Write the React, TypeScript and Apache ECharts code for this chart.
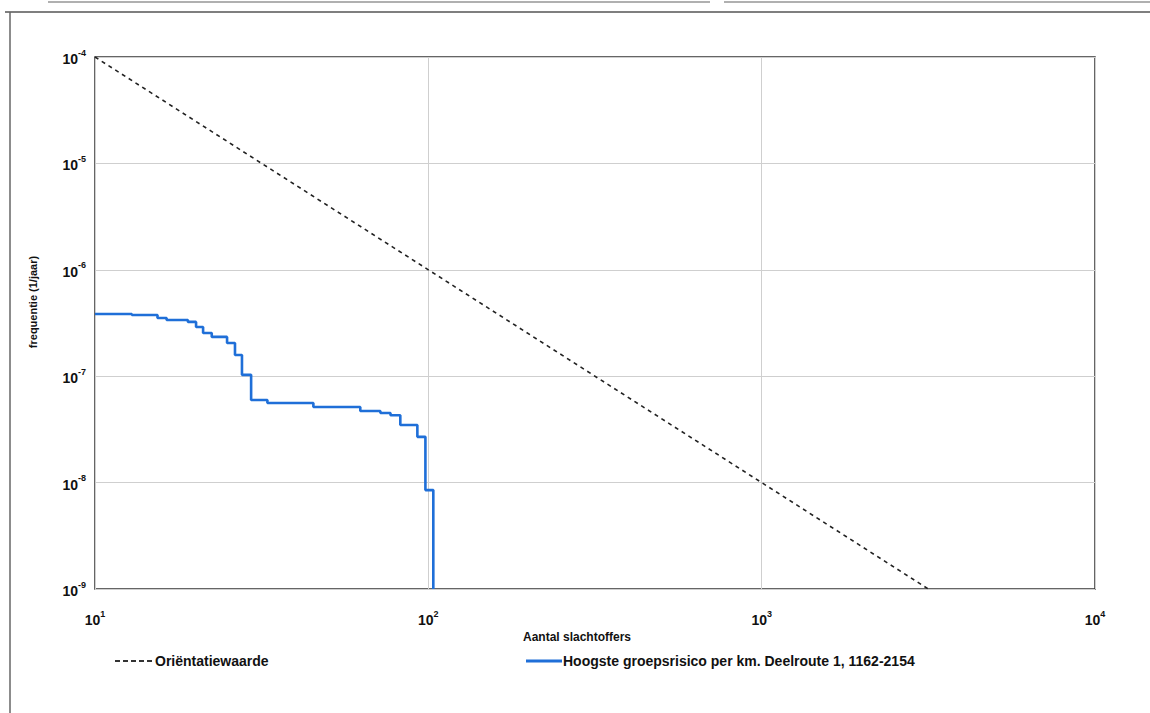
import React, { useEffect, useRef } from "react";
import * as echarts from "echarts";

const xMin = 10;
const xMax = 10000;
const yMin = 1e-9;
const yMax = 1e-4;

const orientName = "Oriëntatiewaarde";
const orientData: [number, number][] = [
  [10, 1e-4],
  [100, 1e-6],
  [1000, 1e-8],
  [3162, 1e-9],
];

const grName = "Hoogste groepsrisico per km. Deelroute 1, 1162-2154";
const grData: [number, number][] = [
  [10, 3.84e-7],
  [12.9, 3.76e-7],
  [15.4, 3.52e-7],
  [16.4, 3.37e-7],
  [19.0, 3.24e-7],
  [20.1, 2.9e-7],
  [21.1, 2.55e-7],
  [22.4, 2.34e-7],
  [24.9, 2.05e-7],
  [26.3, 1.58e-7],
  [27.6, 1.03e-7],
  [29.4, 5.97e-8],
  [32.9, 5.6e-8],
  [45.2, 5.14e-8],
  [62.5, 4.71e-8],
  [71.8, 4.51e-8],
  [77.0, 4.3e-8],
  [82.4, 3.48e-8],
  [92.7, 2.69e-8],
  [98.0, 8.5e-9],
  [103.5, 1e-9],
];

const FONT = "Liberation Sans, Arial, sans-serif";

const powLabel = (v: number) => {
  const e = Math.round(Math.log10(v));
  return `{b|10}{e|${e}}`;
};

const richStyle = {
  b: { fontSize: 14, fontWeight: "bold", fontFamily: FONT, color: "#111", lineHeight: 18, verticalAlign: "bottom" },
  e: { fontSize: 9, fontWeight: "bold", fontFamily: FONT, color: "#111", lineHeight: 18, verticalAlign: "top" },
};

const dashIcon = "path://M0,0h5v2h-5z M8,0h5v2h-5z M16,0h5v2h-5z M24,0h5v2h-5z M32,0h5v2h-5z";
const lineIcon = "path://M0,0h36v3h-36z";

export default function App() {
  const ref = useRef<HTMLDivElement>(null);
  useEffect(() => {
    if (!ref.current) return;
    const chart = echarts.init(ref.current, undefined, { renderer: "svg" });
    chart.setOption({
      animation: false,
      backgroundColor: "#ffffff",
      grid: {
        left: 95,
        top: 57,
        right: 55,
        bottom: 124,
        show: true,
        borderColor: "#333",
        borderWidth: 1.5,
        backgroundColor: "transparent",
      },
      xAxis: {
        type: "log",
        logBase: 10,
        min: xMin,
        max: xMax,
        axisLine: { show: false },
        axisTick: { show: false },
        splitLine: { show: true, lineStyle: { color: "#cfcfcf", width: 1 } },
        minorTick: { show: false },
        axisLabel: { formatter: powLabel, rich: richStyle, margin: 20 },
      },
      yAxis: {
        type: "log",
        logBase: 10,
        min: yMin,
        max: yMax,
        axisLine: { show: false },
        axisTick: { show: false },
        splitLine: { show: true, lineStyle: { color: "#cfcfcf", width: 1 } },
        axisLabel: { formatter: powLabel, rich: richStyle, margin: 9 },
      },
      legend: [
        {
          left: 110,
          top: 649,
          data: [{ name: orientName, icon: dashIcon }],
          itemWidth: 37,
          itemHeight: 2,
          itemGap: 4,
          textStyle: { fontSize: 14, fontWeight: "bold", fontFamily: FONT, color: "#111", padding: [0, 0, 0, -2] },
        },
        {
          left: 521,
          top: 649,
          data: [{ name: grName, icon: lineIcon }],
          itemWidth: 36,
          itemHeight: 3,
          textStyle: { fontSize: 14, fontWeight: "bold", fontFamily: FONT, color: "#111", padding: [0, 0, 0, -4] },
        },
      ],
      series: [
        {
          name: orientName,
          type: "line",
          data: orientData,
          symbol: "none",
          lineStyle: { color: "#222", width: 1.6, type: [4, 4] },
          itemStyle: { color: "#333" },
          z: 3,
        },
        {
          name: grName,
          type: "line",
          step: "end",
          data: grData,
          symbol: "none",
          lineStyle: { color: "#1f6fd8", width: 2.6 },
          itemStyle: { color: "#1f6fd8" },
          z: 4,
        },
      ],
      graphic: [
        {
          type: "text",
          x: 33,
          y: 302,
          rotation: Math.PI / 2,
          style: {
            text: "frequentie (1/jaar)",
            fontSize: 11,
            fontWeight: "bold",
            fontFamily: FONT,
            fill: "#111",
            align: "center",
            verticalAlign: "middle",
          },
        },
        {
          type: "text",
          x: 577,
          y: 637,
          style: {
            text: "Aantal slachtoffers",
            fontSize: 12,
            fontWeight: "bold",
            fontFamily: FONT,
            fill: "#111",
            align: "center",
            verticalAlign: "middle",
          },
        },
        { type: "line", shape: { x1: 5, y1: 12, x2: 1150, y2: 12 }, style: { stroke: "#555", lineWidth: 1.5 } },
        { type: "line", shape: { x1: 10, y1: 12, x2: 10, y2: 713 }, style: { stroke: "#666", lineWidth: 1.5 } },
        { type: "line", shape: { x1: 48, y1: 2, x2: 710, y2: 2 }, style: { stroke: "#b0b0b0", lineWidth: 2 } },
        { type: "line", shape: { x1: 724, y1: 2, x2: 1150, y2: 2 }, style: { stroke: "#b0b0b0", lineWidth: 2 } },
      ],
    });
    return () => chart.dispose();
  }, []);
  return (
    <div
      ref={ref}
      style={{ position: "fixed", left: 0, top: 0, width: 1150, height: 713, background: "#fff" }}
    />
  );
}
